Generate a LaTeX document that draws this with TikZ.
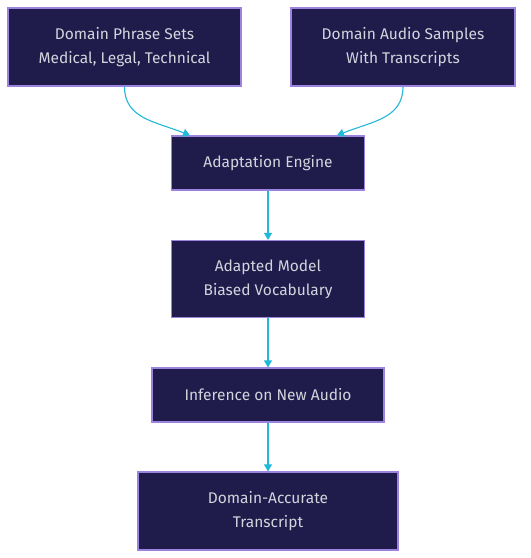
\documentclass[tikz,border=0pt]{standalone}
\usepackage{fontspec}
\setmainfont{Fira Sans}
\usetikzlibrary{arrows.meta}
\definecolor{boxfill}{HTML}{1F1B4B}
\definecolor{boxline}{HTML}{9C83E0}
\definecolor{boxtext}{HTML}{D4D4DC}
\definecolor{arrowc}{HTML}{22B8D8}
\begin{document}
\begin{tikzpicture}[x=1pt, y=-1pt]
		\tikzset{bx/.style={rectangle, draw=boxline, fill=boxfill, line width=1.2pt, text=boxtext, align=center, inner sep=0pt, font=\fontsize{15.5}{24}\selectfont}};
		\tikzset{ar/.style={draw=arrowc, line width=1.1pt, -{Triangle[length=7pt, width=8pt]}}};

		\useasboundingbox (0, 0) rectangle (531, 558);

		\node[bx, minimum width=233pt, minimum height=78pt] (phr) at (124.5, 47) {Domain Phrase Sets\\Medical, Legal, Technical};
		\node[bx, minimum width=224pt, minimum height=78pt] (aud) at (403, 47) {Domain Audio Samples\\With Transcripts};
		\node[bx, minimum width=193pt, minimum height=54pt] (eng) at (268, 163) {Adaptation Engine};
		\node[bx, minimum width=193pt, minimum height=77pt] (mdl) at (268, 279) {Adapted Model\\Biased Vocabulary};
		\node[bx, minimum width=232pt, minimum height=54pt] (inf) at (268, 395) {Inference on New Audio};
		\node[bx, minimum width=260pt, minimum height=78pt] (out) at (268, 511) {Domain-Accurate\\Transcript};

		\draw[ar] (phr.south) .. controls +(0, 32) and +(-35, -14) .. ([xshift=-78pt]eng.north);
		\draw[ar] (aud.south) .. controls +(0, 32) and +(35, -14) .. ([xshift=69pt]eng.north);

		\draw[ar] (eng) to (mdl);
		\draw[ar] (mdl) to (inf);
		\draw[ar] (inf) to (out);
	\end{tikzpicture}
\end{document}
